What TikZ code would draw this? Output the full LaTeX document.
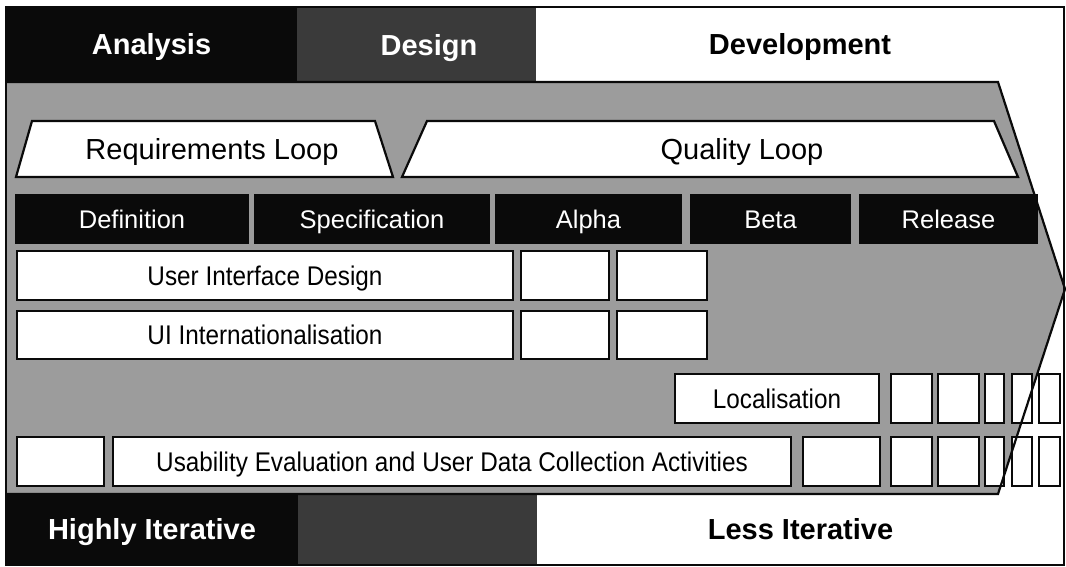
\documentclass[tikz,border=0pt]{standalone}
\usepackage{fontspec}
\setmainfont{Liberation Sans}
\newfontfamily\narrowsans[FakeStretch=0.9]{Liberation Sans}

\definecolor{bodygray}{RGB}{156,156,156}
\definecolor{phasedark}{RGB}{58,58,58}
\definecolor{ink}{RGB}{10,10,10}

% \panel[style]{name}{x1}{y1}{x2}{y2}{text}: a box spanning two corners
\newcommand\panel[7][]{%
  \pgfmathsetmacro\pw{#5-#3}\pgfmathsetmacro\ph{#6-#4}%
  \pgfmathsetmacro\px{(#3+#5)/2}\pgfmathsetmacro\py{(#4+#6)/2}%
  \node[inner sep=0pt, outer sep=0pt, minimum width=\pw pt, minimum height=\ph pt, #1] (#2) at (\px,\py) {#7};}

\tikzset{
  headtxt/.style={font=\fontsize{29}{30}\selectfont\bfseries, text height=21pt, text depth=0pt},
  looptxt/.style={font=\fontsize{29}{30}\selectfont, text height=21pt, text depth=0pt},
  phasetxt/.style={fill=ink, text=white, font=\fontsize{25.5}{27}\selectfont, text height=18pt, text depth=0pt},
  rowbox/.style={fill=white, draw=ink, line width=2.4pt, font=\narrowsans\fontsize{27}{28}\selectfont, text height=19pt, text depth=0pt},
  loopshape/.style={fill=white, draw=ink, line width=2.2pt, line join=miter},
  outline/.style={draw=ink, line width=2.2pt, line join=miter},
}

\begin{document}
\begin{tikzpicture}[x=1pt,y=-1pt]
\useasboundingbox (0,0) rectangle (1066,567);
\fill[white] (0,0) rectangle (1066,567);

% arrow-shaped body
\coordinate (aTL) at (6,82);
\coordinate (aTR) at (998,82);
\coordinate (aTip) at (1065,289);
\coordinate (aBR) at (998,494);
\coordinate (aBL) at (6,494);
\fill[bodygray] (aTL) -- (aTR) -- (aTip) -- (aBR) -- (aBL) -- cycle;

% top phase bar
\panel[fill=ink, headtxt, text=white]{analysis}{6}{7}{297}{81}{Analysis}
\panel[fill=phasedark]{designbar}{297}{7}{536}{81}{}
\node[headtxt, text=white] (design) at (429,45) {Design};
\panel[fill=white, headtxt]{development}{536}{7}{1064}{81}{Development}

% bottom iteration bar
\panel[fill=ink, headtxt, text=white]{highly}{6}{493}{298}{565}{Highly Iterative}
\panel[fill=phasedark]{midbar}{298}{493}{537}{565}{}
\panel[fill=white, headtxt]{less}{537}{493}{1064}{565}{Less Iterative}

% loops
\draw[loopshape] (32,121) -- (375,121) -- (393,177) -- (16,177) -- cycle;
\node[looptxt] (reqloop) at (212,149) {Requirements Loop};
\draw[loopshape] (427,121) -- (994,121) -- (1018,177) -- (402,177) -- cycle;
\node[looptxt] (qualloop) at (742,149) {Quality Loop};

% project phases
\panel[phasetxt]{definition}{15}{194}{249}{244}{Definition}
\panel[phasetxt]{specification}{254}{194}{490}{244}{Specification}
\panel[phasetxt]{alpha}{495}{194}{682}{244}{Alpha}
\panel[phasetxt]{beta}{690}{194}{851}{244}{Beta}
\panel[phasetxt]{release}{859}{194}{1038}{244}{Release}

% activity rows
\panel[rowbox]{uid}{17}{251}{513}{300}{User Interface Design}
\panel[rowbox]{uidA}{521}{251}{609}{300}{}
\panel[rowbox]{uidB}{617}{251}{707}{300}{}

\panel[rowbox]{uii}{17}{311}{513}{359}{UI Internationalisation}
\panel[rowbox]{uiiA}{521}{311}{609}{359}{}
\panel[rowbox]{uiiB}{617}{311}{707}{359}{}

\panel[rowbox]{loc}{675}{374}{879}{423}{Localisation}
\panel[rowbox]{locA}{891}{374}{932}{423}{}
\panel[rowbox]{locB}{938}{374}{979}{423}{}
\panel[rowbox]{locC}{985}{374}{1004}{423}{}
\panel[rowbox]{locD}{1012}{374}{1032}{423}{}
\panel[rowbox]{locE}{1039}{374}{1060}{423}{}

\panel[rowbox]{useA}{17}{437}{104}{486}{}
\panel[rowbox]{use}{113}{437}{791}{486}{Usability Evaluation and User Data Collection Activities}
\panel[rowbox]{useB}{803}{437}{880}{486}{}
\panel[rowbox]{useC}{891}{437}{932}{486}{}
\panel[rowbox]{useD}{938}{437}{979}{486}{}
\panel[rowbox]{useE}{985}{437}{1004}{486}{}
\panel[rowbox]{useF}{1012}{437}{1032}{486}{}
\panel[rowbox]{useG}{1039}{437}{1060}{486}{}

% arrow outline over the boxes
\draw[outline] (aTL) -- (aTR) -- (aTip) -- (aBR) -- (aBL);

% outer frame
\draw[ink, line width=2pt] (6,7) rectangle (1064,565);
\end{tikzpicture}
\end{document}
